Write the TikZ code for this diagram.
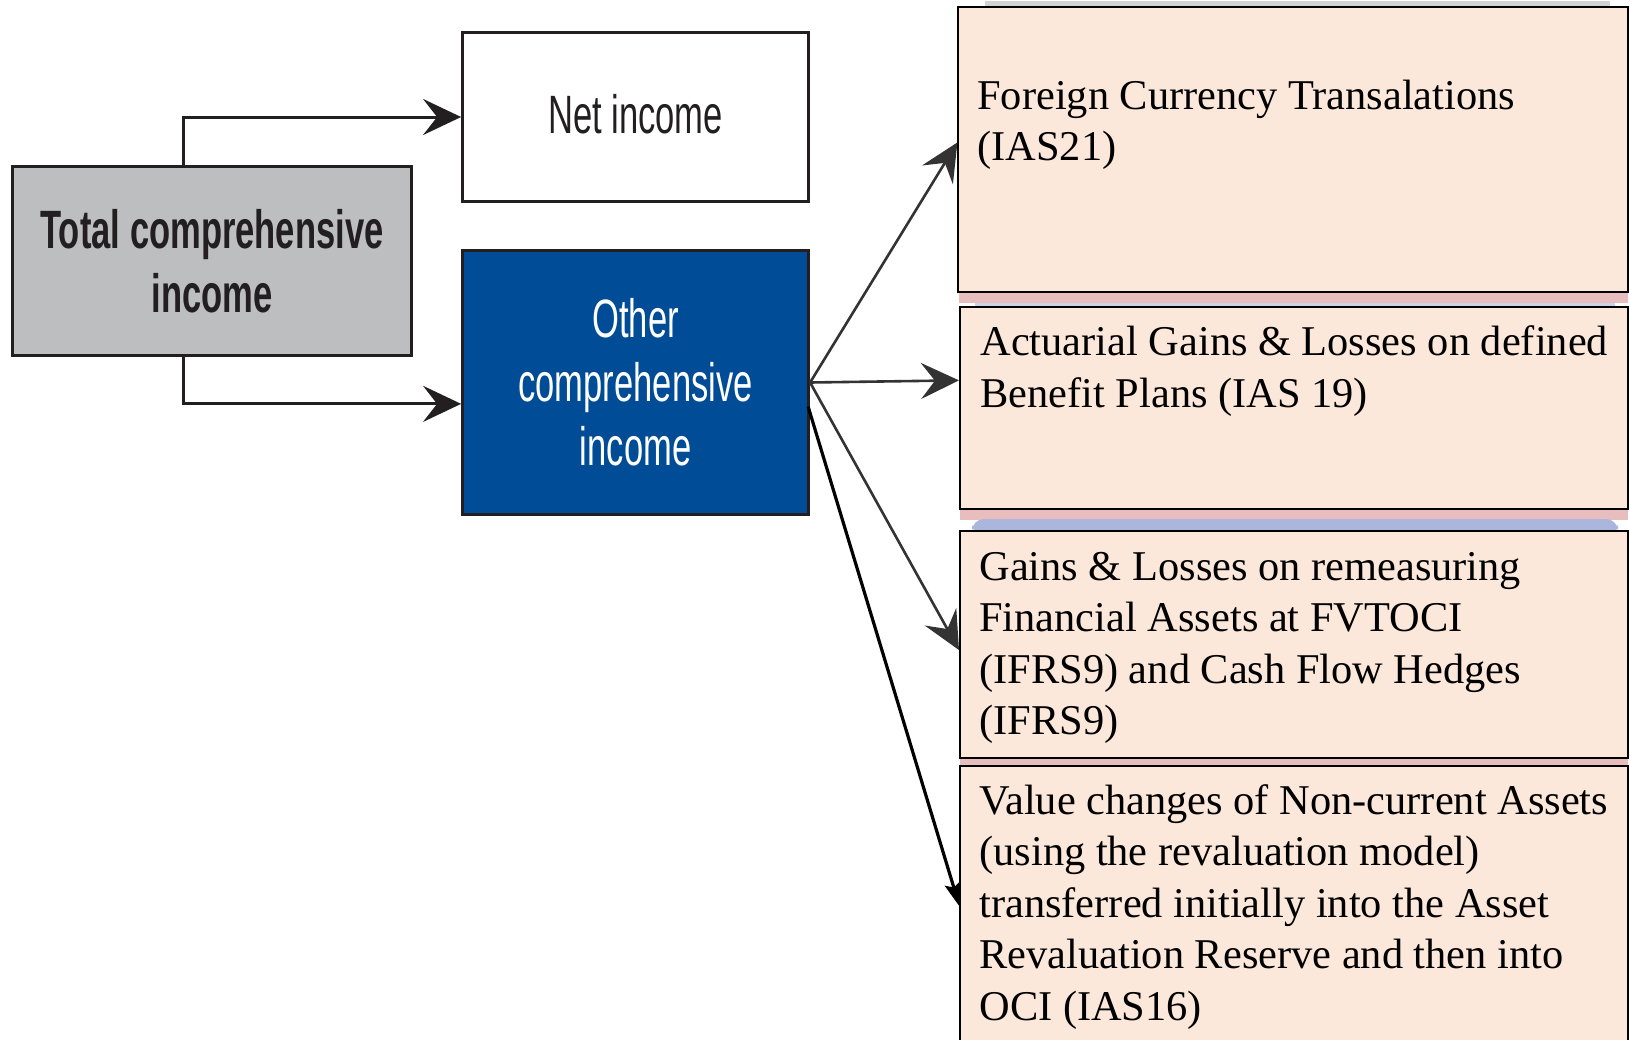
\documentclass[tikz,border=0pt]{standalone}
\usepackage{fontspec}
\setmainfont{Liberation Serif}
\newfontfamily\condsans[FakeStretch=0.64]{Liberation Sans}
\usetikzlibrary{arrows.meta,calc}
\definecolor{peach}{HTML}{FCE8DA}
\definecolor{ocibl}{HTML}{004C97}
\definecolor{tcigray}{HTML}{BCBEC0}
\definecolor{darkline}{HTML}{231F20}
\definecolor{arrgray}{HTML}{333333}
\definecolor{shpink}{HTML}{E8BDBD}
\definecolor{shblue}{HTML}{AAB6DC}
\tikzset{
  leftbox/.style={rectangle, draw=darkline, line width=1.5pt, inner sep=0pt,
    align=center, font=\condsans\fontsize{27}{32}\selectfont},
  rbox/.style={rectangle, draw=black, line width=1pt, fill=peach, inner sep=0pt,
    minimum width=334pt},
  rtext/.style={anchor=base west, inner sep=0pt},
  garrow/.style={draw=darkline, line width=1.5pt,
    -{Stealth[length=19pt,width=18pt,inset=7pt]}},
  rarrow/.style={draw=arrgray, line width=1.3pt,
    -{Stealth[length=19pt,width=18pt,inset=7pt]}},
  barrow/.style={draw=black, line width=1.6pt,
    -{Stealth[length=12pt,width=8pt,inset=2pt]}}
}
\newcommand{\rtxt}[1]{\parbox[t]{330pt}{\raggedright\fontsize{21.2}{25.75}\selectfont #1}}
\begin{document}
\begin{tikzpicture}[x=0.5pt,y=-0.5pt]
\useasboundingbox (0,0) rectangle (1630,1040);
\fill[white] (0,0) rectangle (1630,1040);

% shadows of the right boxes
\fill[gray!35] (985,1) rectangle (1610,7);
\fill[shpink] (959,292) rectangle (1628,303);
\fill[shblue!60] (975,303) rectangle (1615,307);
\fill[shpink] (960,509) rectangle (1628,520);
\fill[shblue, rounded corners=6pt] (972,519) rectangle (1618,536);
\fill[shpink] (960,758) rectangle (1628,766);

% left boxes
\node[leftbox, fill=tcigray, minimum width=199.5pt, minimum height=94.75pt,
  font=\condsans\bfseries\fontsize{27}{32}\selectfont, text=darkline]
  (total) at (212,260.8) {Total comprehensive\\income};
\node[leftbox, fill=white, minimum width=173pt, minimum height=84.75pt, text=darkline]
  (net) at (635.6,117) {\raisebox{3.5pt}{Net income}};
\node[leftbox, fill=ocibl, minimum width=173pt, minimum height=132pt, text=white]
  (oci) at (635.6,382.5) {Other\\comprehensive\\income};

% right boxes
\node[rbox, minimum width=334.8pt, minimum height=142.35pt] (b1) at (1293.2,149.6) {};
\node[rbox, minimum height=101.35pt] (b2) at (1294,408) {};
\node[rbox, minimum height=113.5pt] (b3) at (1294,644.5) {};
\node[rectangle, fill=peach, inner sep=0pt, minimum width=334pt, minimum height=137pt]
  (b4) at (1294,903) {};
\draw[black, line width=1pt] (b4.south west) -- (b4.north west) -- (b4.north east) -- (b4.south east);

\node[rtext] (t1) at (977,109) {\rtxt{Foreign Currency Transalations\\(IAS21)}};
\node[rtext] (t2) at (980,355.5) {\rtxt{Actuarial Gains \& Losses on defined\\Benefit Plans (IAS 19)}};
\node[rtext] (t3) at (979,580) {\rtxt{Gains \& Losses on remeasuring\\Financial Assets at FVTOCI\\(IFRS9) and Cash Flow Hedges\\(IFRS9)}};
\node[rtext] (t4) at (979,814) {\rtxt{Value changes of Non-current Assets\\(using the revaluation model)\\transferred initially into the Asset\\Revaluation Reserve and then into\\OCI (IAS16)}};

% connectors
\coordinate (tTop) at ($(total.north west)!0.43!(total.north east)$);
\coordinate (tBot) at ($(total.south west)!0.43!(total.south east)$);
\coordinate (ociIn) at ($(oci.north west)!0.58!(oci.south west)$);
\draw[garrow] (tTop) |- (net.west);
\draw[garrow] (tBot) |- (ociIn);

\coordinate (e1) at ($(b1.north west)!0.475!(b1.south west)$);
\coordinate (e2) at ($(b2.north west)!0.365!(b2.south west)$);
\coordinate (e3) at ($(b3.north west)!0.524!(b3.south west)$);
\coordinate (e4) at ($(b4.north west)!0.513!(b4.south west)$);
\coordinate (ociOut) at ($(oci.north east)!0.59!(oci.south east)$);
\draw[rarrow] (oci.east) -- (e1);
\draw[rarrow] (oci.east) -- (e2);
\draw[rarrow] (oci.east) -- (e3);
\draw[barrow] ([xshift=-1pt]ociOut) -- (e4);
\end{tikzpicture}
\end{document}
